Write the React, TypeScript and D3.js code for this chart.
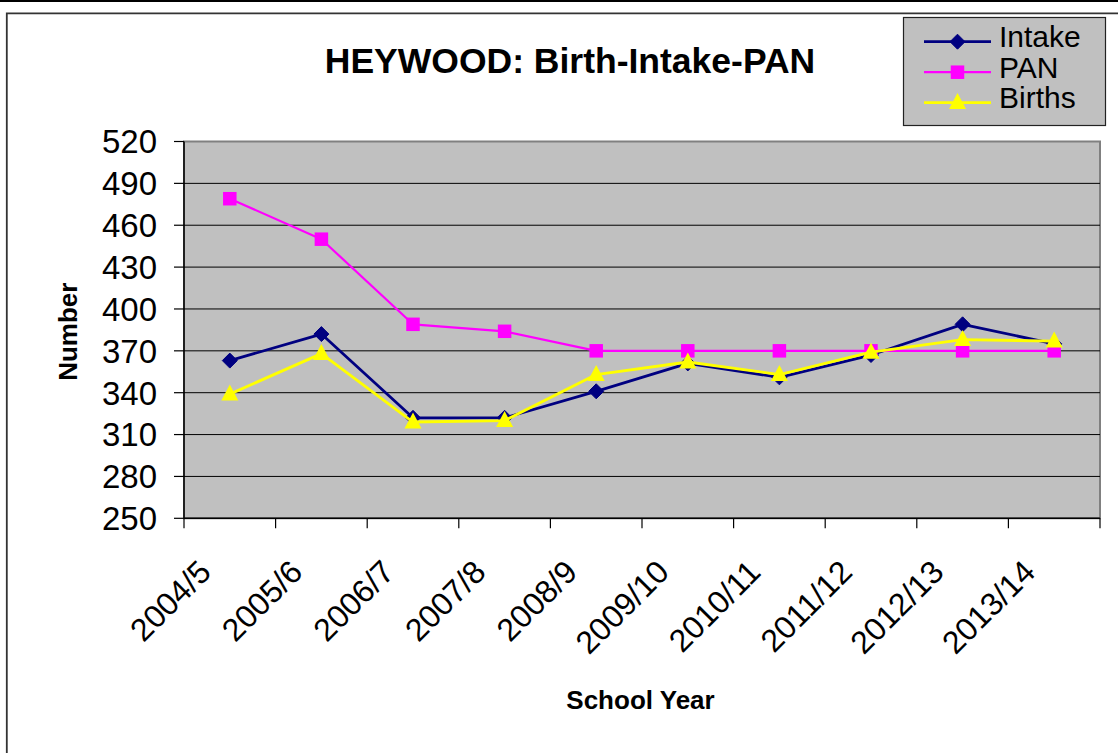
import React from "react";
import * as d3 from "d3";

const categories = ["2004/5", "2005/6", "2006/7", "2007/8", "2008/9", "2009/10", "2010/11", "2011/12", "2012/13", "2013/14"];
const intake = [363, 382, 322, 322, 341, 361, 351, 367, 389, 375];
const pan = [479, 450, 389, 384, 370, 370, 370, 370, 370, 370];
const births = [339, 368, 319, 320, 353, 362, 353, 369, 378, 377];
const yTicks = [250, 280, 310, 340, 370, 400, 430, 460, 490, 520];

const FONT = "'Liberation Sans', Arial, sans-serif";

const W = 1118;
const H = 753;
const left = 184;
const right = 1100;
const top = 141.5;
const bottom = 518.3;

type Series = { name: string; values: number[]; color: string; marker: "diamond" | "square" | "triangle"; width: number };

const series: Series[] = [
  { name: "Intake", values: intake, color: "#000080", marker: "diamond", width: 2.8 },
  { name: "PAN", values: pan, color: "#FF00FF", marker: "square", width: 2.2 },
  { name: "Births", values: births, color: "#FFFF00", marker: "triangle", width: 2.8 },
];

function Marker({ kind, x, y, color }: { kind: string; x: number; y: number; color: string }) {
  if (kind === "diamond") {
    const r = 7.5;
    return <path d={`M${x},${y - r}L${x + r},${y}L${x},${y + r}L${x - r},${y}Z`} fill={color} stroke={color} strokeWidth={1} />;
  }
  if (kind === "square") {
    const s = 13.5;
    return <rect x={x - s / 2} y={y - s / 2} width={s} height={s} fill={color} />;
  }
  const hw = 8.5;
  const h = 16;
  return <path d={`M${x},${y - h * 0.6}L${x + hw},${y + h * 0.4}L${x - hw},${y + h * 0.4}Z`} fill={color} />;
}

export default function App() {
  const x = d3.scaleBand<string>().domain(categories).range([left, right]).padding(0);
  const y = d3.scaleLinear().domain([250, 520]).range([bottom, top]);
  const cx = (c: string) => (x(c) as number) + x.bandwidth() / 2;
  const line = d3
    .line<number>()
    .x((_, i) => cx(categories[i]))
    .y((v) => y(v));

  const boundaries = categories.map((c) => x(c) as number).concat([right]);

  return (
    <svg width={W} height={H} style={{ position: "absolute", left: 0, top: 0, background: "#fff" }} fontFamily={FONT}>
      <rect x={0} y={0} width={W} height={2} fill="#000" />
      <path d={`M6.8,${H}V13.3H${W}`} fill="none" stroke="#333" strokeWidth={1.8} />

      <text x={570} y={73} textAnchor="middle" fontSize={35.5} fontWeight="bold">
        HEYWOOD: Birth-Intake-PAN
      </text>

      {/* plot area */}
      <rect x={left} y={top} width={right - left} height={bottom - top} fill="#C0C0C0" stroke="#808080" strokeWidth={2} />
      {yTicks.filter((t) => t !== 250 && t !== 520).map((t) => (
        <line key={t} x1={left} x2={right} y1={y(t)} y2={y(t)} stroke="#000" strokeWidth={1} />
      ))}
      <line x1={left} x2={left} y1={top} y2={bottom} stroke="#000" strokeWidth={1.5} />
      <line x1={left} x2={right} y1={bottom} y2={bottom} stroke="#000" strokeWidth={1.5} />

      {yTicks.map((t) => (
        <g key={t}>
          <line x1={174} x2={left} y1={y(t)} y2={y(t)} stroke="#000" strokeWidth={1.2} />
          <text x={157} y={y(t)} dy="0.36em" textAnchor="end" fontSize={33}>
            {t}
          </text>
        </g>
      ))}
      {boundaries.map((b, i) => (
        <line key={i} x1={b} x2={b} y1={bottom} y2={bottom + 10} stroke="#000" strokeWidth={1.2} />
      ))}
      {categories.map((c) => (
        <text key={c} transform={`translate(${cx(c) - 17},574) rotate(-45)`} textAnchor="end" fontSize={32}>
          {c}
        </text>
      ))}

      <text x={640.5} y={709} textAnchor="middle" fontSize={26} fontWeight="bold">
        School Year
      </text>
      <text transform="translate(77,331.7) rotate(-90)" textAnchor="middle" fontSize={26} fontWeight="bold">
        Number
      </text>

      {series.map((s) => (
        <g key={s.name}>
          <path d={line(s.values) as string} fill="none" stroke={s.color} strokeWidth={s.width} strokeLinejoin="round" />
          {s.values.map((v, i) => (
            <Marker key={i} kind={s.marker} x={cx(categories[i])} y={y(v)} color={s.color} />
          ))}
        </g>
      ))}

      {/* legend */}
      <rect x={903.5} y={17.5} width={202} height={108} fill="#C0C0C0" stroke="#222" strokeWidth={1.2} />
      {series.map((s, i) => {
        const ly = 41.7 + i * 30.5;
        return (
          <g key={s.name}>
            <line x1={924} x2={991} y1={ly} y2={ly} stroke={s.color} strokeWidth={s.width} />
            <Marker kind={s.marker} x={957.5} y={ly} color={s.color} />
            <text x={999} y={ly + 5.3} fontSize={30}>
              {s.name}
            </text>
          </g>
        );
      })}
    </svg>
  );
}
